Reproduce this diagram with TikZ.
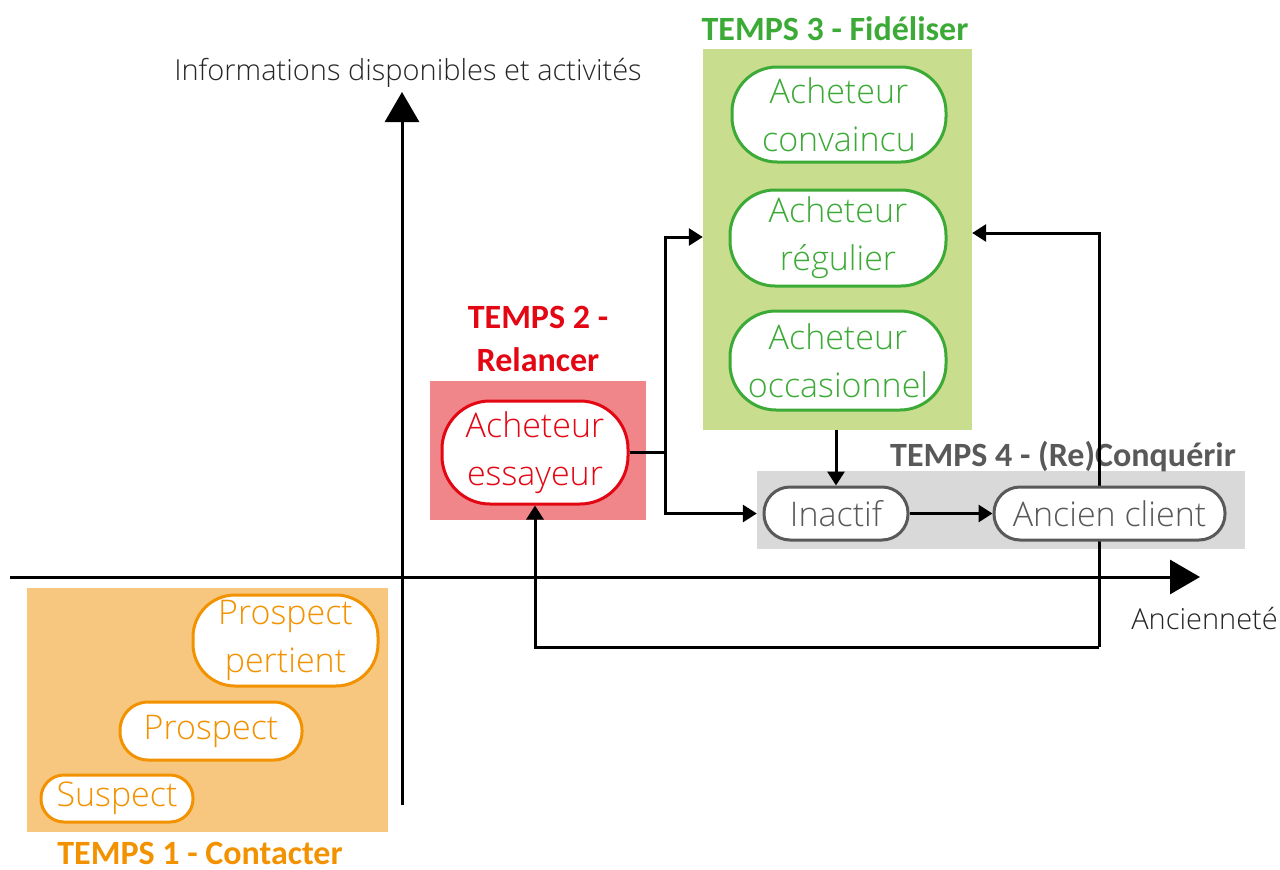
\documentclass[tikz,border=0pt]{standalone}
\usepackage{fontspec}
\setmainfont{Open Sans Light}
\newfontfamily\titlefont{Carlito}
\usetikzlibrary{arrows.meta}
\definecolor{orS}{HTML}{F39200}
\definecolor{orF}{HTML}{F8C77F}
\definecolor{rdS}{HTML}{E30613}
\definecolor{rdF}{HTML}{F0858A}
\definecolor{grS}{HTML}{3CAA36}
\definecolor{grF}{HTML}{C9DD8E}
\definecolor{gyS}{HTML}{595959}
\definecolor{gyF}{HTML}{D9D9D9}
\tikzset{
  pill/.style={draw, line width=3pt, fill=white, align=center, inner sep=0pt,
    font=\fontsize{34}{48}\selectfont},
  zone/.style={draw=none, inner sep=0pt},
  ttl/.style={font=\titlefont\bfseries\fontsize{34}{43}\selectfont, align=center, inner sep=0pt},
  conn/.style={line width=3pt, -{Triangle[length=14pt,width=17pt]}},
  axis/.style={line width=3pt, -{Triangle[length=30pt,width=34pt]}},
  lbl/.style={font=\fontsize{29}{34}\selectfont, text=black!85, inner sep=0pt}
}
\begin{document}
\begin{tikzpicture}[x=1pt,y=-1pt]
\useasboundingbox (0,0) rectangle (1280,870);
% zones
\node[zone, fill=orF, minimum width=361pt, minimum height=244pt] (z1) at (207.5,710) {};
\node[zone, fill=rdF, minimum width=216pt, minimum height=139pt] (z2) at (538,450.5) {};
\node[zone, fill=grF, minimum width=269pt, minimum height=381pt] (z3) at (837.5,239.5) {};
\node[zone, fill=gyF, minimum width=488pt, minimum height=78pt] (z4) at (1001,510) {};
% titles
\node[ttl, text=orS, anchor=base] (t1) at (200,864) {TEMPS 1 - Contacter};
\node[ttl, text=rdS] (t2) at (538,339) {TEMPS 2 -\\Relancer};
\node[ttl, text=grS, anchor=base] (t3) at (835,40) {TEMPS 3 - Fidéliser};
\node[ttl, text=gyS, anchor=base] (t4) at (1063,466) {TEMPS 4 - (Re)Conquérir};
% axes
\coordinate (o) at (402,577);
\coordinate (xs) at (10,577);
\coordinate (xe) at (1200,577);
\coordinate (ys) at (402,805);
\coordinate (ye) at (402,92);
\draw[axis] (xs) -- (xe);
\draw[axis] (ys) -- (ye);
\node[lbl, anchor=base] (ly) at (408,80) {Informations disponibles et activités};
\node[lbl, anchor=base east] (lx) at (1278,629) {Ancienneté};
% nodes
\node[pill, draw=orS, text=orS, minimum width=185pt, minimum height=91pt, rounded corners=42pt] (ppert) at (285.5,640.5) {Prospect\\pertient};
\node[pill, draw=orS, text=orS, minimum width=182pt, minimum height=58pt, rounded corners=28pt] (prosp) at (211,731) {Prospect};
\node[pill, draw=orS, text=orS, minimum width=152pt, minimum height=47pt, rounded corners=23pt] (susp) at (117,798.5) {Suspect};
\node[pill, draw=rdS, text=rdS, minimum width=186pt, minimum height=103pt, rounded corners=48pt] (ess) at (535,452.5) {Acheteur\\essayeur};
\node[pill, draw=grS, text=grS, minimum width=214pt, minimum height=95pt, rounded corners=45pt] (conv) at (839,114.5) {Acheteur\\convaincu};
\node[pill, draw=grS, text=grS, minimum width=216pt, minimum height=96pt, rounded corners=45pt] (reg) at (838,238) {Acheteur\\régulier};
\node[pill, draw=grS, text=grS, minimum width=216pt, minimum height=99pt, rounded corners=46pt] (occ) at (838,360.5) {Acheteur\\occasionnel};
% connectors
\coordinate (split) at (665,452.5);
\coordinate (turnTR) at (1099,233);
\coordinate (turnBR) at (1099,647);
\node[pill, draw=gyS, text=gyS, minimum width=144pt, minimum height=53pt, rounded corners=26pt] (inac) at (836,513.5) {Inactif};
\draw[line width=3pt] (ess.east) -- (split);
\draw[conn] (split) |- (z3.west |- 237,237);
\draw[conn] (split) |- (z4.west |- inac);
\draw[conn] (inac |- z3.south) -- (inac.north);
\draw[conn] (turnBR) -- (turnTR) -- (turnTR -| z3.east);
\draw[conn] (turnBR) -| (ess.south);
\node[pill, draw=gyS, text=gyS, minimum width=231pt, minimum height=53pt, rounded corners=26pt] (anc) at (1109.5,513.5) {Ancien client};
\draw[conn] (inac.east) -- (anc.west);
\end{tikzpicture}
\end{document}
